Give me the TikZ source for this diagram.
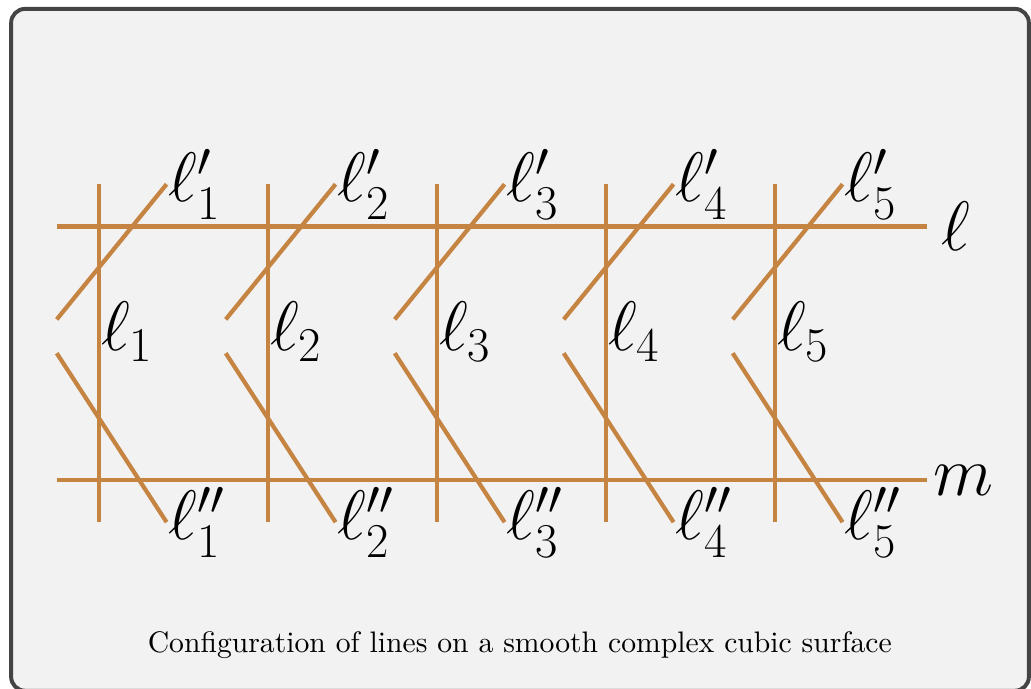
\documentclass[tikz,border=0pt]{standalone}
\usepackage{xcolor}
\usepackage{tikz}
\usepackage{amsmath}
\definecolor{lineorange}{RGB}{197, 132, 66}
\definecolor{framegray}{RGB}{68, 68, 68}
\definecolor{panelgray}{RGB}{242, 242, 242}

\begin{document}
\begin{tikzpicture}[
    x=0.528cm, y=0.528cm,
    cline/.style={lineorange, line width=1.5pt},
    lbl/.style={anchor=west, inner sep=0pt, text=black, font=\fontsize{27}{32}\selectfont},
    frame/.style={draw=framegray, fill=panelgray, line width=1.4pt, rounded corners=5pt}
]
    \useasboundingbox (-2.343,-4.947) rectangle (22.06,11.36);
    \path[frame] (-2.08,-4.99) rectangle (22.01,11.15);

    % the two lines l and m
    \draw[cline] (-1,6) -- (19.6,6) node[lbl, xshift=0.15cm] (lab-l) {$\ell$};
    \draw[cline] (-1,0) -- (19.6,0) node[lbl, xshift=0.05cm] (lab-m) {$m$};

    % the lines l_i
    \draw[cline] (0,-1)  -- node[lbl, yshift=0.27cm] (lab-1) {$\ell_1$} (0,7);
    \draw[cline] (4,-1)  -- node[lbl, yshift=0.27cm] (lab-2) {$\ell_2$} (4,7);
    \draw[cline] (8,-1)  -- node[lbl, yshift=0.27cm] (lab-3) {$\ell_3$} (8,7);
    \draw[cline] (12,-1) -- node[lbl, yshift=0.27cm] (lab-4) {$\ell_4$} (12,7);
    \draw[cline] (16,-1) -- node[lbl, yshift=0.27cm] (lab-5) {$\ell_5$} (16,7);

    % the lines l'_i
    \draw[cline] (-1,3.8) -- (1.6,7)  node[lbl] (lab-1p) {$\ell'_1$};
    \draw[cline] (3,3.8)  -- (5.6,7)  node[lbl] (lab-2p) {$\ell'_2$};
    \draw[cline] (7,3.8)  -- (9.6,7)  node[lbl] (lab-3p) {$\ell'_3$};
    \draw[cline] (11,3.8) -- (13.6,7) node[lbl] (lab-4p) {$\ell'_4$};
    \draw[cline] (15,3.8) -- (17.6,7) node[lbl] (lab-5p) {$\ell'_5$};

    % the lines l''_i
    \draw[cline] (-1,3)  -- (1.6,-1)  node[lbl] (lab-1pp) {$\ell''_1$};
    \draw[cline] (3,3)   -- (5.6,-1)  node[lbl] (lab-2pp) {$\ell''_2$};
    \draw[cline] (7,3)   -- (9.6,-1)  node[lbl] (lab-3pp) {$\ell''_3$};
    \draw[cline] (11,3)  -- (13.6,-1) node[lbl] (lab-4pp) {$\ell''_4$};
    \draw[cline] (15,3)  -- (17.6,-1) node[lbl] (lab-5pp) {$\ell''_5$};

    \node[font=\fontsize{10.55}{12.5}\selectfont] (caption) at (9.96,-3.9)
        {Configuration of lines on a smooth complex cubic surface};
\end{tikzpicture}
\end{document}
